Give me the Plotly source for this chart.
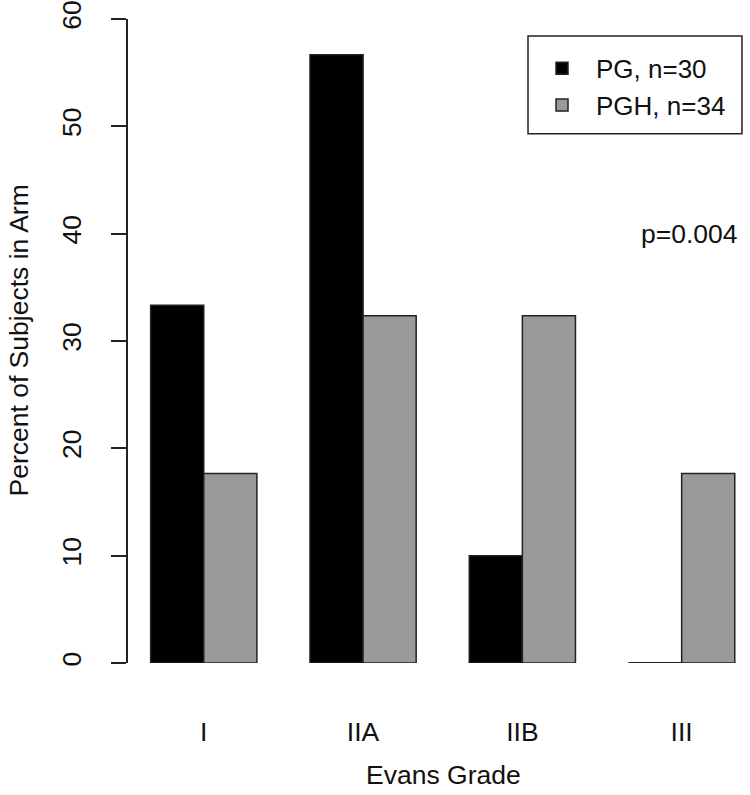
import plotly.graph_objects as go

categories = ["I", "IIA", "IIB", "III"]
pg_values = [33.33, 56.67, 10.0, 0.0]
pgh_values = [17.65, 32.35, 32.35, 17.65]
series_names = ["PG, n=30", "PGH, n=34"]
y_ticks = [0, 10, 20, 30, 40, 50, 60]
p_text = "p=0.004"

FONT = "Liberation Sans, Arial, Helvetica, sans-serif"
FS = 26.5
LINE = "#222222"

group_centers = [2 + 3 * i for i in range(len(categories))]
pg_x = [c - 0.5 for c in group_centers]
pgh_x = [c + 0.5 for c in group_centers]

fig = go.Figure()
fig.add_trace(go.Bar(x=pg_x, y=pg_values, width=1, name=series_names[0],
                     marker=dict(color="#000000", line=dict(color=LINE, width=1.5))))
fig.add_trace(go.Bar(x=pgh_x, y=pgh_values, width=1, name=series_names[1],
                     marker=dict(color="#9a9a9a", line=dict(color=LINE, width=1.5))))

shapes = []
for x, v in zip(pg_x, pg_values):
    if v == 0:
        shapes.append(dict(type="line", xref="x", yref="y", x0=x - 0.5, x1=x + 0.5,
                           y0=0, y1=0, line=dict(color=LINE, width=2)))
# legend frame
shapes.append(dict(type="rect", xref="paper", yref="paper", x0=0.6431, x1=0.9871,
                   y0=0.822, y1=0.9737, line=dict(color=LINE, width=1.5),
                   fillcolor="rgba(0,0,0,0)", layer="above"))

fig.update_layout(
    width=750, height=795,
    margin=dict(l=128, r=0, t=17, b=132),
    plot_bgcolor="white", paper_bgcolor="white",
    font=dict(family=FONT, size=FS, color="#111111"),
    showlegend=True,
    legend=dict(x=0.6431, y=0.9598, xanchor="left", yanchor="top",
                bgcolor="rgba(0,0,0,0)", borderwidth=0, itemwidth=58,
                font=dict(size=26), traceorder="normal"),
    xaxis=dict(range=[0.573, 12.287], tickvals=group_centers, ticktext=categories,
               showline=False, showgrid=False, zeroline=False, ticks="",
               ticklabelstandoff=50, fixedrange=True),
    yaxis=dict(range=[0, 60], tickvals=y_ticks, showline=True, linecolor=LINE, linewidth=1.5,
               ticks="outside", ticklen=15, tickwidth=1.5, tickcolor=LINE,
               tickangle=-90, showgrid=False, zeroline=False, ticklabelstandoff=20,
               ticklabeloverflow="allow"),
    shapes=shapes,
    annotations=[
        dict(text="Evans Grade", xref="paper", yref="paper", x=0.5065, y=-0.1734,
             showarrow=False, xanchor="center", yanchor="middle", font=dict(size=FS)),
        dict(text="Percent of Subjects in Arm", xref="paper", yref="paper", x=-0.176, y=0.5,
             showarrow=False, xanchor="center", yanchor="middle", textangle=-90, font=dict(size=FS)),
        dict(text=p_text, xref="x", yref="y", x=11.15, y=40, showarrow=False,
             xanchor="center", yanchor="middle", font=dict(size=FS)),
    ],
)

fig.write_html("out.html", config={"displayModeBar": False},
               post_script="document.body.style.margin='0';")
